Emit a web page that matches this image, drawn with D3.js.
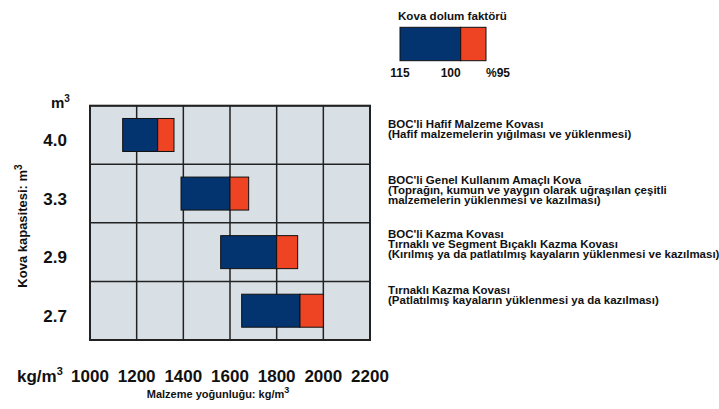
<!DOCTYPE html>
<html><head><meta charset="utf-8">
<script src="https://cdn.jsdelivr.net/npm/d3@7"></script>
<style>body{margin:0;background:#fff}text{font-family:"Liberation Sans",Arial,sans-serif;font-weight:bold;fill:#111}</style>
</head><body>
<svg id="c" width="719" height="409"></svg>
<script>
const capacities = ["4.0","3.3","2.9","2.7"];
const density115 = [1140, 1390, 1560, 1650];
const density100 = [1290, 1600, 1800, 1900];
const density95  = [1360, 1680, 1890, 2000];
const xTicks = [1000,1200,1400,1600,1800,2000,2200];
const legendFactors = [115, 100, 95];
const legendLabels = ["115","100","%95"];
const descriptions = [
  ["BOC'li Hafif Malzeme Kovası","(Hafif malzemelerin yığılması ve yüklenmesi)"],
  ["BOC'li Genel Kullanım Amaçlı Kova","(Toprağın, kumun ve yaygın olarak uğraşılan çeşitli","malzemelerin yüklenmesi ve kazılması)"],
  ["BOC'li Kazma Kovası","Tırnaklı ve Segment Bıçaklı Kazma Kovası","(Kırılmış ya da patlatılmış kayaların yüklenmesi ve kazılması)"],
  ["Tırnaklı Kazma Kovası","(Patlatılmış kayaların yüklenmesi ya da kazılması)"]
];
const blue = "#033470", red = "#ef4423";

const svg = d3.select("#c");
const L = 90, R = 370, T = 105.7, B = 340;
const x = d3.scaleLinear().domain([1000,2200]).range([L,R]);
const y = d3.scaleBand().domain(capacities).range([T,B]).padding(0);

svg.append("rect").attr("x",L).attr("y",T).attr("width",R-L).attr("height",B-T).attr("fill","#d9e0e5");
const g = svg.append("g").attr("stroke","#222").attr("stroke-width",1.5);
xTicks.forEach(v=>g.append("line").attr("x1",x(v)).attr("x2",x(v)).attr("y1",T).attr("y2",B));
capacities.forEach(c=>g.append("line").attr("x1",L).attr("x2",R).attr("y1",y(c)).attr("y2",y(c)));
g.append("line").attr("x1",L).attr("x2",R).attr("y1",B).attr("y2",B);
svg.append("rect").attr("x",L).attr("y",T).attr("width",R-L).attr("height",B-T).attr("fill","none").attr("stroke","#222").attr("stroke-width",2);

const bh = 33;
const descY = [128.3,184,237.7,294.3];
capacities.forEach((c,i)=>{
  const yc = y(c) + y.bandwidth()/2;
  svg.append("rect").attr("x",x(density115[i])).attr("y",yc-bh/2).attr("width",x(density100[i])-x(density115[i])).attr("height",bh)
    .attr("fill",blue).attr("stroke","#111").attr("stroke-width",1);
  svg.append("rect").attr("x",x(density100[i])).attr("y",yc-bh/2).attr("width",x(density95[i])-x(density100[i])).attr("height",bh)
    .attr("fill",red).attr("stroke","#111").attr("stroke-width",1);
  svg.append("text").attr("x",67).attr("y",yc+11).attr("text-anchor","end").attr("font-size",17).text(c);
  const t = svg.append("text").attr("font-size",10)
    .attr("transform",`translate(388,${descY[i]}) scale(1.15,1)`);
  descriptions[i].forEach((ln,k)=>t.append("tspan").attr("x",0).attr("y",k*10).text(ln));
});

const mu = svg.append("text").attr("x",51).attr("y",108).attr("font-size",15);
mu.append("tspan").text("m");
mu.append("tspan").attr("font-size",10).attr("dy",-6).text("3");

const yt = svg.append("text").attr("transform","translate(27,226) rotate(-90)").attr("text-anchor","middle").attr("font-size",13);
yt.append("tspan").text("Kova kapasitesi: m");
yt.append("tspan").attr("font-size",10).attr("dy",-5).text("3");

xTicks.forEach(v=>svg.append("text").attr("x",x(v)).attr("y",382).attr("text-anchor","middle").attr("font-size",17).text(v));
const ku = svg.append("text").attr("x",17).attr("y",382).attr("font-size",17);
ku.append("tspan").text("kg/m");
ku.append("tspan").attr("font-size",11).attr("dy",-7).text("3");

const xt = svg.append("text").attr("x",218).attr("y",398).attr("text-anchor","middle").attr("font-size",11);
xt.append("tspan").text("Malzeme yoğunluğu: kg/m");
xt.append("tspan").attr("font-size",9).attr("dy",-5).text("3");

svg.append("text").attr("x",398).attr("y",20).attr("font-size",11.6).text("Kova dolum faktörü");
const lx = d3.scaleLinear().domain(legendFactors).range([400,460.7,486]);
svg.append("rect").attr("x",lx(115)).attr("y",27.3).attr("width",lx(100)-lx(115)).attr("height",33.4).attr("fill",blue).attr("stroke","#111");
svg.append("rect").attr("x",lx(100)).attr("y",27.3).attr("width",lx(95)-lx(100)).attr("height",33.4).attr("fill",red).attr("stroke","#111");
svg.append("text").attr("x",lx(115)).attr("y",77).attr("text-anchor","middle").attr("font-size",12).text(legendLabels[0]);
svg.append("text").attr("x",lx(100)).attr("y",77).attr("text-anchor","end").attr("font-size",12).text(legendLabels[1]);
svg.append("text").attr("x",lx(95)).attr("y",77).attr("text-anchor","start").attr("font-size",12).text(legendLabels[2]);
</script>
</body></html>
